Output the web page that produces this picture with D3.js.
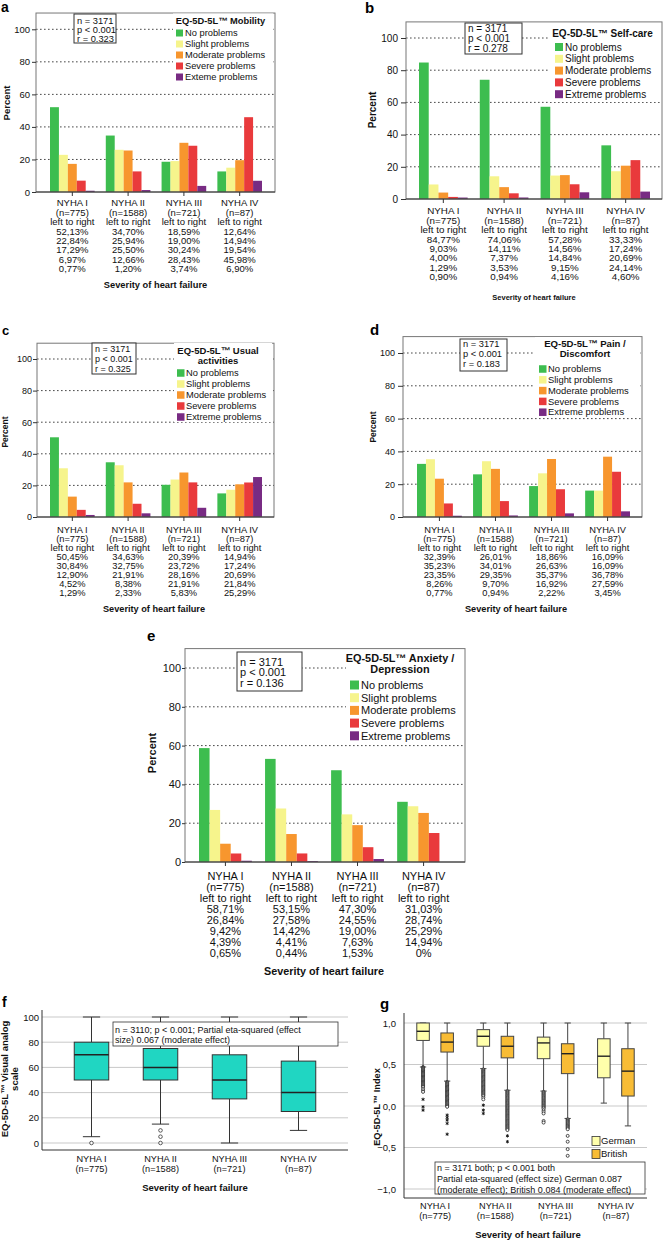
<!DOCTYPE html>
<html><head><meta charset="utf-8">
<script src="https://cdn.jsdelivr.net/npm/d3@7"></script>
<style>body{margin:0;background:#fff} svg{display:block;font-family:'Liberation Sans',Arial,Helvetica,sans-serif}</style>
</head><body><svg id="fig" width="663" height="1240"></svg>
<script>
// ---------- DATA ----------
const groups = ["NYHA I", "NYHA II", "NYHA III", "NYHA IV"];
const groupN = ["(n=775)", "(n=1588)", "(n=721)", "(n=87)"];
const levels = ["No problems", "Slight problems", "Moderate problems", "Severe problems", "Extreme problems"];
const levelsMobility = ["No problems", "Slight problems", "Moderate problems", "Severe problems", "Exteme problems"];
const levelColors = ["#3dbd4f", "#f6f48c", "#f7962e", "#e93a3c", "#782b83"];
const yTicks = [0, 20, 40, 60, 80, 100];

const mobility = [[52.13, 22.84, 17.29, 6.97, 0.77], [34.70, 25.94, 25.50, 12.66, 1.20], [18.59, 19.00, 30.24, 28.43, 3.74], [12.64, 14.94, 19.54, 45.98, 6.90]];
const selfCare = [[84.77, 9.03, 4.00, 1.29, 0.90], [74.06, 14.11, 7.37, 3.53, 0.94], [57.28, 14.56, 14.84, 9.15, 4.16], [33.33, 17.24, 20.69, 24.14, 4.60]];
const usualActivities = [[50.45, 30.84, 12.90, 4.52, 1.29], [34.63, 32.75, 21.91, 8.38, 2.33], [20.39, 23.72, 28.16, 21.91, 5.83], [14.94, 17.24, 20.69, 21.84, 25.29]];
const painDiscomfort = [[32.39, 35.23, 23.35, 8.26, 0.77], [26.01, 34.01, 29.35, 9.70, 0.94], [18.86, 26.63, 35.37, 16.92, 2.22], [16.09, 16.09, 36.78, 27.59, 3.45]];
const anxietyDepression = [[58.71, 26.84, 9.42, 4.39, 0.65], [53.15, 27.58, 14.42, 4.41, 0.44], [47.30, 24.55, 19.00, 7.63, 1.53], [31.03, 28.74, 25.29, 14.94, 0]];

const statsMobility = ["n = 3171", "p < 0.001", "r = 0.323"];
const statsSelfCare = ["n = 3171", "p < 0.001", "r = 0.278"];
const statsUsual = ["n = 3171", "p < 0.001", "r = 0.325"];
const statsPain = ["n = 3171", "p < 0.001", "r = 0.183"];
const statsAnxiety = ["n = 3171", "p < 0.001", "r = 0.136"];

// VAS box plot (f)
const vasTicks = [0, 20, 40, 60, 80, 100];
const vasLow = [5, 15, 0, 10];
const vasQ1 = [50, 50, 35, 25];
const vasMedian = [70, 60, 50, 40];
const vasQ3 = [80, 75, 70, 65];
const vasHigh = [100, 100, 100, 100];
const vasOutliers = [[0], [10, 5, 0], [], []];
const vasStats = ["n = 3110; p < 0.001; Partial eta-squared (effect", "size) 0.067 (moderate effect)"];

// Index box plot (g)
const indexTicks = [-1, -0.5, 0, 0.5, 1];
const tariffs = ["German", "British"];
const tariffColors = ["#ffffab", "#f8bc35"];
const germanLow = [0.47, 0.45, 0.18, 0.035];
const germanQ1 = [0.79, 0.72, 0.57, 0.34];
const germanMedian = [0.90, 0.84, 0.76, 0.60];
const germanQ3 = [1.0, 0.92, 0.83, 0.81];
const germanHigh = [1, 1, 1, 1];
const britishLow = [0.30, 0.19, -0.15, -0.24];
const britishQ1 = [0.65, 0.58, 0.39, 0.12];
const britishMedian = [0.77, 0.72, 0.63, 0.42];
const britishQ3 = [0.88, 0.84, 0.75, 0.69];
const britishHigh = [1, 1, 1, 1];
const germanOutCircles = [
  [0.47, 0.46, 0.45, 0.44, 0.43, 0.42, 0.41, 0.40, 0.39, 0.38, 0.37, 0.36, 0.35, 0.34, 0.33, 0.32, 0.31, 0.30, 0.29, 0.28, 0.27, 0.26, 0.25, 0.24, 0.23, 0.21, 0.19, 0.17],
  [0.44, 0.43, 0.42, 0.41, 0.40, 0.39, 0.38, 0.37, 0.36, 0.35, 0.34, 0.33, 0.32, 0.31, 0.30, 0.29, 0.28, 0.27, 0.26, 0.25, 0.24, 0.23, 0.22, 0.21, 0.20, 0.19, 0.18, 0.17, 0.16, 0.15, 0.14, 0.13, 0.12, 0.10, 0.08],
  [0.17, 0.16, 0.15, 0.14, 0.13, 0.12, 0.11, 0.10, 0.09, 0.08, 0.07, 0.06, 0.05, 0.04, 0.03, 0.02, 0.01, 0.00, -0.01, -0.02, -0.03, -0.05, -0.07, -0.09, -0.18, -0.20],
  []];
const germanOutStars = [[0.08, -0.01, -0.05], [0.01, -0.05, -0.09], [], []];
const britishOutCircles = [
  [0.29, 0.28, 0.27, 0.26, 0.25, 0.24, 0.23, 0.22, 0.21, 0.20, 0.19, 0.18, 0.17, 0.16, 0.15, 0.14, 0.13, 0.12, 0.11, 0.10, 0.09, 0.08, 0.07, 0.06, 0.05, 0.04, 0.03, 0.02, 0.01, 0.00, -0.01],
  [0.18, 0.17, 0.16, 0.15, 0.14, 0.13, 0.12, 0.11, 0.10, 0.09, 0.08, 0.07, 0.06, 0.05, 0.04, 0.03, 0.02, 0.01, 0.00, -0.01, -0.02, -0.03, -0.04, -0.05, -0.06, -0.07, -0.08, -0.09, -0.10, -0.11, -0.12, -0.13, -0.14, -0.15, -0.16, -0.17, -0.18, -0.19, -0.20, -0.21, -0.22, -0.23, -0.24, -0.25, -0.26, -0.27, -0.28, -0.29],
  [-0.16, -0.17, -0.18, -0.19, -0.20, -0.21, -0.22, -0.23, -0.24, -0.25, -0.26, -0.27, -0.28, -0.36, -0.43, -0.52, -0.60],
  []];
const britishOutStars = [[-0.11, -0.14, -0.17, -0.21, -0.34], [-0.36, -0.43], [], []];
const indexStats = ["n = 3171 both; p < 0.001 both", "Partial eta-squared (effect size) German 0.087", "(moderate effect); British 0.084 (moderate effect)"];

const severityLabel = "Severity of heart failure";

// ---------- HELPERS ----------
const svg = d3.select("#fig");
const FONT = "'Liberation Sans', Arial, Helvetica, sans-serif";
const INK = "#111";
const fmtPct = v => v === 0 ? "0%" : d3.format(".2f")(v).replace(".", ",") + "%";
const fmtIdx = v => d3.format(".1f")(v).replace(".", ",");

function addText(parent, str, x, yc, size, opt = {}) {
  return parent.append("text").attr("x", x).attr("y", yc + size * 0.35)
    .attr("font-size", size).attr("font-weight", opt.bold ? "bold" : null)
    .attr("text-anchor", opt.anchor || "start").attr("fill", INK).text(str);
}
function addRotText(parent, str, cx, cy, size) {
  return parent.append("text").attr("transform", `translate(${cx},${cy}) rotate(-90)`)
    .attr("y", size * 0.35).attr("font-size", size).attr("font-weight", "bold")
    .attr("text-anchor", "middle").attr("fill", INK).text(str);
}
function letter(str, x, y, size) {
  svg.append("text").attr("x", x).attr("y", y).attr("font-size", size).attr("font-weight", "bold").attr("fill", "#000").text(str);
}

// ---------- BAR PANELS ----------
function barPanel(c) {
  const g = svg.append("g");
  const y = d3.scaleLinear().domain([0, 100]).range([c.yZero, c.y100]);
  const top = y(110);
  const x = d3.scaleBand().domain(groups).range(c.band).paddingInner(0.2).paddingOuter(0);
  const xi = d3.scaleBand().domain(d3.range(levels.length)).range([0, x.bandwidth()]);

  g.append("g").selectAll("line").data(yTicks.filter(t => t > 0)).join("line")
    .attr("x1", c.x0).attr("x2", c.x1).attr("y1", d => y(d)).attr("y2", d => y(d))
    .attr("stroke", "#333").attr("stroke-width", 0.9).attr("stroke-dasharray", "1.6,2.4");

  g.append("g").selectAll("g").data(c.data).join("g")
    .attr("transform", (d, i) => `translate(${x(groups[i])},0)`)
    .selectAll("rect").data(d => d).join("rect")
    .attr("x", (d, j) => xi(j)).attr("width", xi.bandwidth())
    .attr("y", d => y(d)).attr("height", d => y(0) - y(d))
    .attr("fill", (d, j) => levelColors[j]);

  g.append("rect").attr("x", c.x0).attr("y", top).attr("width", c.x1 - c.x0).attr("height", y(0) - top)
    .attr("fill", "none").attr("stroke", "#777");
  g.append("line").attr("x1", c.x0).attr("x2", c.x1).attr("y1", y(0)).attr("y2", y(0)).attr("stroke", "#333");

  const ya = g.append("g").attr("transform", `translate(${c.x0},0)`)
    .call(d3.axisLeft(y).tickValues(yTicks).tickSize(c.tickLen).tickPadding(c.tickPad));
  ya.select(".domain").remove();
  ya.attr("font-family", FONT).attr("font-size", c.tickFont);
  ya.selectAll("line").attr("stroke", "#333");
  ya.selectAll("text").attr("fill", INK);

  const xa = g.append("g").attr("transform", `translate(0,${y(0)})`)
    .call(d3.axisBottom(x).tickSize(4).tickFormat(""));
  xa.select(".domain").remove();
  xa.selectAll("line").attr("stroke", "#333");

  groups.forEach((gr, i) => {
    const lines = [gr, groupN[i], "left to right", ...c.data[i].map(fmtPct)];
    lines.forEach((s, k) => addText(g, s, x(gr) + x.bandwidth() / 2, c.labelY + k * c.labelDy, c.labelFont, { anchor: "middle" }));
  });
  addText(g, severityLabel, c.sevX, c.sevY, c.sevFont, { anchor: "middle", bold: true });
  addRotText(g, "Percent", c.pctX, c.pctY, c.pctFont);

  // stats box
  const s = c.stats;
  g.append("rect").attr("x", s.x).attr("y", s.y).attr("width", s.w).attr("height", s.h)
    .attr("fill", "#fff").attr("stroke", "#333").attr("stroke-width", 1);
  c.statLines.forEach((t, k) => addText(g, t, s.x + 3, s.ly[k], s.font));

  // legend
  const L = c.legend;
  g.append("rect").attr("x", L.bg[0]).attr("y", L.bg[1]).attr("width", L.bg[2]).attr("height", L.bg[3]).attr("fill", "#fff");
  L.title.forEach((t, k) => addText(g, t, L.titleX, L.titleY[k], L.titleFont, { anchor: "middle", bold: true }));
  const names = c.names || levels;
  names.forEach((nm, k) => {
    const cy = L.y0 + k * L.dy;
    g.append("rect").attr("x", L.x).attr("y", cy - L.sq / 2).attr("width", L.sq).attr("height", L.sq).attr("fill", levelColors[k]);
    addText(g, nm, L.tx, cy, L.font);
  });
}

barPanel({
  data: mobility, names: levelsMobility, statLines: statsMobility,
  x0: 36, x1: 275, yZero: 192, y100: 29.3, band: [50, 262],
  tickLen: 4, tickPad: 2, tickFont: 9.5,
  labelY: 203, labelDy: 9.4, labelFont: 9.5, sevX: 155.5, sevY: 285, sevFont: 9.3,
  pctX: 7, pctY: 103, pctFont: 9.5,
  stats: { x: 74, y: 14, w: 42, h: 29, ly: [20.5, 29.5, 38.5], font: 9.3 },
  legend: { bg: [173, 13.5, 100, 70], title: ["EQ-5D-5L\u2122 Mobility"], titleX: 220.5, titleY: [21], titleFont: 9.3,
    x: 176, sq: 7, y0: 33, dy: 11, tx: 185, font: 9.3 }
});
barPanel({
  data: selfCare, statLines: statsSelfCare,
  x0: 406, x1: 662, yZero: 199, y100: 38, band: [419, 650],
  tickLen: 5, tickPad: 3, tickFont: 10,
  labelY: 211, labelDy: 9.4, labelFont: 9.8, sevX: 534, sevY: 297, sevFont: 7.5,
  pctX: 372, pctY: 110, pctFont: 10,
  stats: { x: 465, y: 23, w: 57, h: 31, ly: [28.5, 38.5, 48.5], font: 10 },
  legend: { bg: [549, 24, 111, 78], title: ["EQ-5D-5L\u2122 Self-care"], titleX: 602.5, titleY: [33], titleFont: 10,
    x: 555, sq: 8, y0: 47, dy: 11.8, tx: 565, font: 10 }
});
barPanel({
  data: usualActivities, statLines: statsUsual,
  x0: 37, x1: 274, yZero: 517, y100: 359, band: [50, 262],
  tickLen: 4, tickPad: 1, tickFont: 9,
  labelY: 530, labelDy: 8.9, labelFont: 9.3, sevX: 154, sevY: 609, sevFont: 9.2,
  pctX: 5, pctY: 432, pctFont: 8.5,
  stats: { x: 92, y: 343, w: 44, h: 31, ly: [349, 359, 368.5], font: 9 },
  legend: { bg: [174, 343, 98, 79], title: ["EQ-5D-5L\u2122 Usual", "activities"], titleX: 218, titleY: [351, 361], titleFont: 9.5,
    x: 177, sq: 7.5, y0: 373, dy: 11, tx: 186, font: 9.3 }
});
barPanel({
  data: painDiscomfort, statLines: statsPain,
  x0: 403, x1: 642, yZero: 517, y100: 353, band: [417, 630],
  tickLen: 5, tickPad: 3, tickFont: 9,
  labelY: 530, labelDy: 8.9, labelFont: 9.3, sevX: 516, sevY: 609, sevFont: 9.2,
  pctX: 373, pctY: 427, pctFont: 8.5,
  stats: { x: 460, y: 339, w: 47, h: 32, ly: [344, 354, 364], font: 9.3 },
  legend: { bg: [535, 337, 105, 80], title: ["EQ-5D-5L\u2122 Pain /", "Discomfort"], titleX: 585, titleY: [344, 354], titleFont: 9.6,
    x: 539, sq: 7.5, y0: 369, dy: 10.8, tx: 548, font: 9.4 }
});
barPanel({
  data: anxietyDepression, statLines: statsAnxiety,
  x0: 185, x1: 465, yZero: 862, y100: 668, band: [199, 450],
  tickLen: 3, tickPad: 1, tickFont: 11,
  labelY: 876, labelDy: 11, labelFont: 11, sevX: 324, sevY: 971, sevFont: 10.8,
  pctX: 152, pctY: 753, pctFont: 11,
  stats: { x: 237, y: 652, w: 65, h: 39, ly: [662, 672.5, 683], font: 11 },
  legend: { bg: [346, 650, 117, 92], title: ["EQ-5D-5L\u2122 Anxiety /", "Depression"], titleX: 400, titleY: [658, 669], titleFont: 10.9,
    x: 350, sq: 9, y0: 685, dy: 12.7, tx: 361, font: 11 }
});

// ---------- PANEL f (VAS box plot) ----------
(function () {
  const g = svg.append("g");
  const x0 = 42, x1 = 348, top = 1010, bottom = 1150;
  const y = d3.scaleLinear().domain([0, 100]).range([1143, 1017]);
  const x = d3.scaleBand().domain(groups).range([57, 333]).paddingInner(0.5).paddingOuter(0.25);
  const bw = x.bandwidth();
  g.selectAll(".gl").data(vasTicks).join("line")
    .attr("x1", x0).attr("x2", x1).attr("y1", d => y(d)).attr("y2", d => y(d)).attr("stroke", "#c9c9c9");
  groups.forEach((gr, i) => {
    const cx = x(gr) + bw / 2;
    g.append("line").attr("x1", cx).attr("x2", cx).attr("y1", y(vasHigh[i])).attr("y2", y(vasQ3[i])).attr("stroke", "#333");
    g.append("line").attr("x1", cx).attr("x2", cx).attr("y1", y(vasQ1[i])).attr("y2", y(vasLow[i])).attr("stroke", "#333");
    [vasHigh[i], vasLow[i]].forEach(v => g.append("line").attr("x1", cx - bw / 4).attr("x2", cx + bw / 4).attr("y1", y(v)).attr("y2", y(v)).attr("stroke", "#333"));
    g.append("rect").attr("x", x(gr)).attr("width", bw).attr("y", y(vasQ3[i])).attr("height", y(vasQ1[i]) - y(vasQ3[i]))
      .attr("fill", "#20d6c2").attr("stroke", "#333");
    g.append("line").attr("x1", x(gr)).attr("x2", x(gr) + bw).attr("y1", y(vasMedian[i])).attr("y2", y(vasMedian[i])).attr("stroke", "#222").attr("stroke-width", 1.5);
    g.selectAll(null).data(vasOutliers[i]).join("circle").attr("cx", cx).attr("cy", d => y(d)).attr("r", 1.8)
      .attr("fill", "#fff").attr("stroke", "#333").attr("stroke-width", 0.8);
  });
  g.append("line").attr("x1", x0).attr("x2", x0).attr("y1", top).attr("y2", bottom).attr("stroke", "#333");
  g.append("line").attr("x1", x0).attr("x2", x1).attr("y1", bottom).attr("y2", bottom).attr("stroke", "#333");
  const ya = g.append("g").attr("transform", `translate(${x0},0)`).call(d3.axisLeft(y).tickValues(vasTicks).tickSize(0).tickPadding(3));
  ya.select(".domain").remove();
  ya.attr("font-family", FONT).attr("font-size", 9.5);
  ya.selectAll("text").attr("fill", INK);
  groups.forEach((gr, i) => {
    addText(g, gr, x(gr) + bw / 2, 1159, 9.2, { anchor: "middle" });
    addText(g, groupN[i], x(gr) + bw / 2, 1169, 9.2, { anchor: "middle" });
  });
  addText(g, severityLabel, 195, 1188, 9.5, { anchor: "middle", bold: true });
  addRotText(g, "EQ-5D-5L\u2122 Visual analog", 5, 1079, 9.5);
  addRotText(g, "scale", 15, 1079, 9.5);
  g.append("rect").attr("x", 113).attr("y", 1022).attr("width", 225).attr("height", 24).attr("fill", "#fff").attr("stroke", "#333").attr("stroke-width", 0.8);
  vasStats.forEach((t, k) => addText(g, t, 115, 1029.5 + k * 10.5, 9));
})();

// ---------- PANEL g (Index box plot) ----------
(function () {
  const g = svg.append("g");
  const x0 = 404, x1 = 647, top = 1013, bottom = 1198;
  const y = d3.scaleLinear().domain([-1, 1]).range([1189, 1023]);
  const x = d3.scaleBand().domain(groups).range([411, 640]).paddingInner(0.2).paddingOuter(0);
  const xi = d3.scaleBand().domain(tariffs).range([0, x.bandwidth()]).paddingInner(0.48).paddingOuter(0.24);
  const bw = xi.bandwidth();
  g.selectAll(".gl").data(indexTicks).join("line")
    .attr("x1", x0).attr("x2", x1).attr("y1", d => y(d)).attr("y2", d => y(d)).attr("stroke", "#c9c9c9");
  const sets = [
    { low: germanLow, q1: germanQ1, med: germanMedian, q3: germanQ3, high: germanHigh, oc: germanOutCircles, os: germanOutStars },
    { low: britishLow, q1: britishQ1, med: britishMedian, q3: britishQ3, high: britishHigh, oc: britishOutCircles, os: britishOutStars }];
  const star = d3.symbol(d3.symbolAsterisk, 8);
  groups.forEach((gr, i) => {
    tariffs.forEach((t, k) => {
      const S = sets[k];
      const bx = x(gr) + xi(t), cx = bx + bw / 2;
      g.append("line").attr("x1", cx).attr("x2", cx).attr("y1", y(S.high[i])).attr("y2", y(S.q3[i])).attr("stroke", "#444");
      g.append("line").attr("x1", cx).attr("x2", cx).attr("y1", y(S.q1[i])).attr("y2", y(S.low[i])).attr("stroke", "#444");
      [S.high[i], S.low[i]].forEach(v => g.append("line").attr("x1", cx - bw / 4).attr("x2", cx + bw / 4).attr("y1", y(v)).attr("y2", y(v)).attr("stroke", "#444"));
      g.append("rect").attr("x", bx).attr("width", bw).attr("y", y(S.q3[i])).attr("height", y(S.q1[i]) - y(S.q3[i]))
        .attr("fill", tariffColors[k]).attr("stroke", "#444");
      g.append("line").attr("x1", bx).attr("x2", bx + bw).attr("y1", y(S.med[i])).attr("y2", y(S.med[i])).attr("stroke", "#222").attr("stroke-width", 1.4);
      g.selectAll(null).data(S.oc[i]).join("circle").attr("cx", cx).attr("cy", d => y(d)).attr("r", 1.5)
        .attr("fill", "#fff").attr("stroke", "#222").attr("stroke-width", 0.8);
      g.selectAll(null).data(S.os[i]).join("path").attr("d", star)
        .attr("transform", d => `translate(${cx},${y(d)})`).attr("fill", "none").attr("stroke", "#111").attr("stroke-width", 0.9);
    });
  });
  g.append("line").attr("x1", x0).attr("x2", x0).attr("y1", top).attr("y2", bottom).attr("stroke", "#333");
  g.append("line").attr("x1", x0).attr("x2", x1).attr("y1", bottom).attr("y2", bottom).attr("stroke", "#333");
  const ya = g.append("g").attr("transform", `translate(${x0},0)`).call(d3.axisLeft(y).tickValues(indexTicks).tickFormat(fmtIdx).tickSize(0).tickPadding(8));
  ya.select(".domain").remove();
  ya.attr("font-family", FONT).attr("font-size", 9.5);
  ya.selectAll("text").attr("fill", INK);
  groups.forEach((gr, i) => {
    addText(g, gr, x(gr) + x.bandwidth() / 2, 1206, 9.2, { anchor: "middle" });
    addText(g, groupN[i], x(gr) + x.bandwidth() / 2, 1216, 9.2, { anchor: "middle" });
  });
  addText(g, severityLabel, 528, 1235, 9.5, { anchor: "middle", bold: true });
  addRotText(g, "EQ-5D-5L\u2122 Index", 377, 1107, 9.2);
  // legend
  tariffs.forEach((t, k) => {
    const cy = 1141 + k * 13;
    g.append("rect").attr("x", 592).attr("y", cy - 4.5).attr("width", 8).attr("height", 9).attr("fill", tariffColors[k]).attr("stroke", "#333").attr("stroke-width", 0.8);
    addText(g, t, 601, cy, 9.5);
  });
  g.append("rect").attr("x", 435).attr("y", 1162).attr("width", 210).attr("height", 32).attr("fill", "#fff").attr("stroke", "#333").attr("stroke-width", 0.8);
  indexStats.forEach((t, k) => addText(g, t, 437, 1167.5 + k * 11, 9));
})();

// panel letters
letter("a", 1, 12, 14);
letter("b", 365, 13, 15);
letter("c", 2, 335, 13);
letter("d", 370, 335, 15);
letter("e", 147, 641, 15);
letter("f", 2, 1007, 14);
letter("g", 380, 1009, 15);
</script>
</body></html>
